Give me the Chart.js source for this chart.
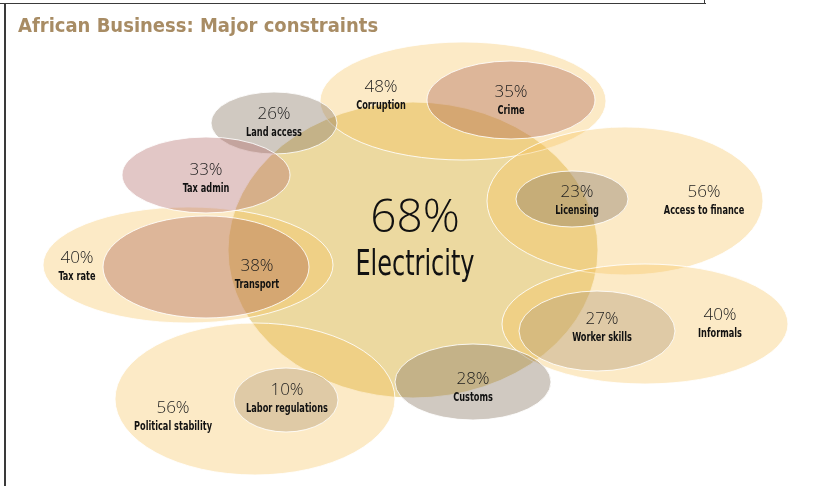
<!DOCTYPE html>
<html lang="en">
<head>
    <meta charset="UTF-8">
    <title>African Business: Major constraints</title>
    <script src="https://cdn.jsdelivr.net/npm/chart.js"></script>
    <style>
        body { margin: 0; background: #fff; }
        #wrap { position: relative; width: 823px; height: 486px; }
        canvas { display: block; }
        .rule { position: absolute; background: #3a3a3a; }
    </style>
</head>
<body>
<div id="wrap">
    <canvas id="chart" width="823" height="486"></canvas>
    <div class="rule" style="left:0; top:3px; width:706px; height:1px;"></div>
    <div class="rule" style="left:4px; top:3px; width:1.5px; height:483px;"></div>
    <div class="rule" style="left:704px; top:0; width:1px; height:4px;"></div>
</div>

<script>
    // constraints, share of firms (%)
    const labels = ['Electricity', 'Corruption', 'Access to finance', 'Informals', 'Tax rate', 'Political stability',
                    'Crime', 'Land access', 'Tax admin', 'Transport', 'Licensing', 'Worker skills', 'Labor regulations', 'Customs'];
    const values = [68, 48, 56, 40, 40, 56, 35, 26, 33, 38, 23, 27, 10, 28];

    // bubble centre and half-axes, in chart units
    const cx = [413, 463, 625, 645, 188, 255, 511, 274, 206, 206, 572, 597, 286, 473];
    const cy = [250, 101, 201, 324, 265, 399, 100, 123, 175, 267, 199, 331, 400, 382];
    const rx = [185, 143, 138, 143, 145, 140, 84, 63, 84, 103, 56, 78, 52, 78];
    const ry = [148, 59, 74, 60, 58, 76, 39, 31, 38, 51, 28, 40, 32, 38];

    // where the text of each bubble sits
    const textX = [415, 381, 704, 720, 77, 173, 511, 274, 206, 257, 577, 602, 287, 473];
    const textY = [232, 92, 197, 320, 263, 413, 97, 119, 175, 271, 197, 324, 395, 384];

    const fills = [
        'rgb(236,217,160)',
        'rgba(246,191,82,0.33)', 'rgba(246,191,82,0.33)', 'rgba(246,191,82,0.33)',
        'rgba(246,191,82,0.33)', 'rgba(246,191,82,0.33)',
        'rgba(175,105,85,0.4)', 'rgba(137,120,100,0.4)', 'rgba(175,100,98,0.36)', 'rgba(175,105,85,0.4)',
        'rgba(137,120,100,0.4)', 'rgba(180,155,118,0.4)', 'rgba(180,155,118,0.4)', 'rgba(137,120,100,0.4)'
    ];

    const ellipses = {
        id: 'ellipses',
        afterDatasetsDraw(chart) {
            const ctx = chart.ctx;
            const xs = chart.scales.x, ys = chart.scales.y;
            const pts = chart.getDatasetMeta(0).data;
            ctx.save();
            pts.forEach((p, i) => {
                const a = Math.abs(xs.getPixelForValue(cx[i] + rx[i]) - p.x);
                const b = Math.abs(ys.getPixelForValue(cy[i] + ry[i]) - p.y);
                ctx.beginPath();
                ctx.ellipse(p.x, p.y, a, b, 0, 0, Math.PI * 2);
                ctx.fillStyle = fills[i];
                ctx.fill();
                ctx.lineWidth = 1;
                ctx.strokeStyle = 'rgba(255,255,255,0.85)';
                ctx.stroke();
            });

            ctx.textAlign = 'center';
            ctx.textBaseline = 'alphabetic';
            labels.forEach((name, i) => {
                const x = xs.getPixelForValue(textX[i]);
                const y = ys.getPixelForValue(textY[i]);
                const big = i === 0;
                ctx.fillStyle = big ? '#111' : '#1e1e1e';
                ctx.font = (big ? '300 46px' : '300 17px') + ' "Open Sans", sans-serif';
                ctx.fillText(values[i] + '%', x, y);
                ctx.fillStyle = '#111';
                ctx.font = (big ? '36px' : 'bold 12px') + ' "DejaVu Sans Condensed", sans-serif';
                const w = ctx.measureText(name).width;
                // the original uses a narrow face, so squeeze the text a little
                ctx.fillText(name, x, y + (big ? 43 : 16.5), w * (big ? 0.74 : 0.76));
            });
            ctx.restore();
        }
    };

    new Chart(document.getElementById('chart'), {
        type: 'scatter',
        data: {
            labels: labels,
            datasets: [{
                data: cx.map((x, i) => ({ x: x, y: cy[i] })),
                pointRadius: 0,
                pointHoverRadius: 0
            }]
        },
        options: {
            responsive: false,
            animation: false,
            layout: { padding: { left: 18 } },
            events: [],
            plugins: {
                legend: { display: false },
                tooltip: { enabled: false },
                title: {
                    display: true,
                    text: 'African Business: Major constraints',
                    align: 'start',
                    color: '#a88c64',
                    font: { family: '"DejaVu Sans Condensed", sans-serif', size: 20, weight: 'bold', lineHeight: 1 },
                    padding: { top: 17, bottom: 3 }
                }
            },
            scales: {
                x: { type: 'linear', display: false, min: 18, max: 823 },
                y: { type: 'linear', display: false, min: 40, max: 486, reverse: true }
            }
        },
        plugins: [ellipses]
    });
</script>
</body>
</html>
